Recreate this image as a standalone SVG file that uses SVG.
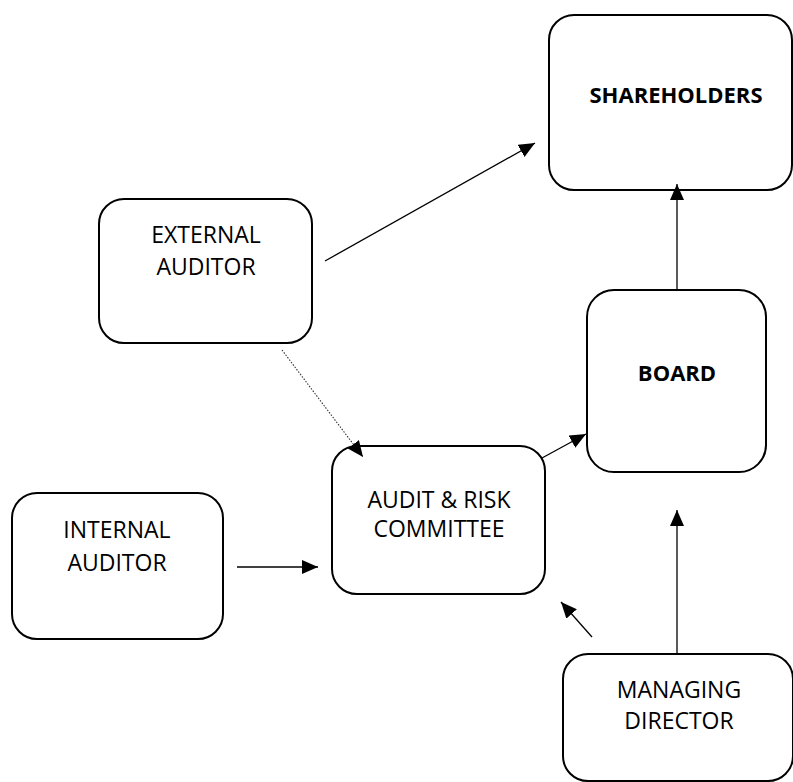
<svg xmlns="http://www.w3.org/2000/svg" width="793" height="782" viewBox="0 0 793 782">
  <style>
    .box { fill: #ffffff; stroke: #000000; stroke-width: 2; }
    .lbl { font-family: "Open Sans", "Liberation Sans", sans-serif; font-size: 23px; fill: #000000; text-anchor: middle; }
    .bold { font-weight: bold; font-size: 22px; }
    .link { fill: none; stroke: #000000; stroke-width: 1.3; }
    .dotted { fill: none; stroke: #333333; stroke-width: 1.1; stroke-dasharray: 1.5 1.5; }
  </style>
  <defs>
    <marker id="head" markerUnits="userSpaceOnUse" markerWidth="17" markerHeight="15" refX="16" refY="7" orient="auto">
      <path d="M0,0 L16,7 L0,14 Z" fill="#000000"/>
    </marker>
  </defs>
  <rect width="793" height="782" fill="#ffffff"/>

  <g id="shareholders">
    <rect class="box" x="549" y="15" width="243" height="175" rx="25" ry="25"/>
    <text class="lbl bold" x="676" y="103">SHAREHOLDERS</text>
  </g>

  <g id="external-auditor">
    <rect class="box" x="99" y="199" width="213" height="144" rx="25" ry="25"/>
    <text class="lbl" x="206" y="243">EXTERNAL</text>
    <text class="lbl" x="206" y="275">AUDITOR</text>
  </g>

  <g id="board">
    <rect class="box" x="587" y="290" width="179" height="182" rx="27" ry="27"/>
    <text class="lbl bold" x="677" y="381">BOARD</text>
  </g>

  <g id="audit-risk-committee">
    <rect class="box" x="332" y="446" width="213" height="148" rx="25" ry="25"/>
    <text class="lbl" x="439" y="508">AUDIT &amp; RISK</text>
    <text class="lbl" x="439" y="537">COMMITTEE</text>
  </g>

  <g id="internal-auditor">
    <rect class="box" x="12" y="493" width="211" height="146" rx="25" ry="25"/>
    <text class="lbl" x="117" y="538">INTERNAL</text>
    <text class="lbl" x="117" y="571">AUDITOR</text>
  </g>

  <g id="managing-director">
    <rect class="box" x="563" y="654" width="230" height="127" rx="25" ry="25"/>
    <text class="lbl" x="679" y="698">MANAGING</text>
    <text class="lbl" x="679" y="729">DIRECTOR</text>
  </g>

  <g id="connectors">
    <line class="link" x1="325" y1="261" x2="535" y2="143" marker-end="url(#head)"/>
    <line class="link" x1="677" y1="290" x2="677" y2="184" marker-end="url(#head)"/>
    <line class="dotted" x1="282" y1="350" x2="363" y2="457" marker-end="url(#head)"/>
    <line class="link" x1="542" y1="458" x2="586" y2="434" marker-end="url(#head)"/>
    <line class="link" x1="237" y1="567" x2="318" y2="567" marker-end="url(#head)"/>
    <line class="link" x1="677" y1="653" x2="677" y2="510" marker-end="url(#head)"/>
    <line class="link" x1="592" y1="637" x2="561" y2="602" marker-end="url(#head)"/>
  </g>
</svg>
